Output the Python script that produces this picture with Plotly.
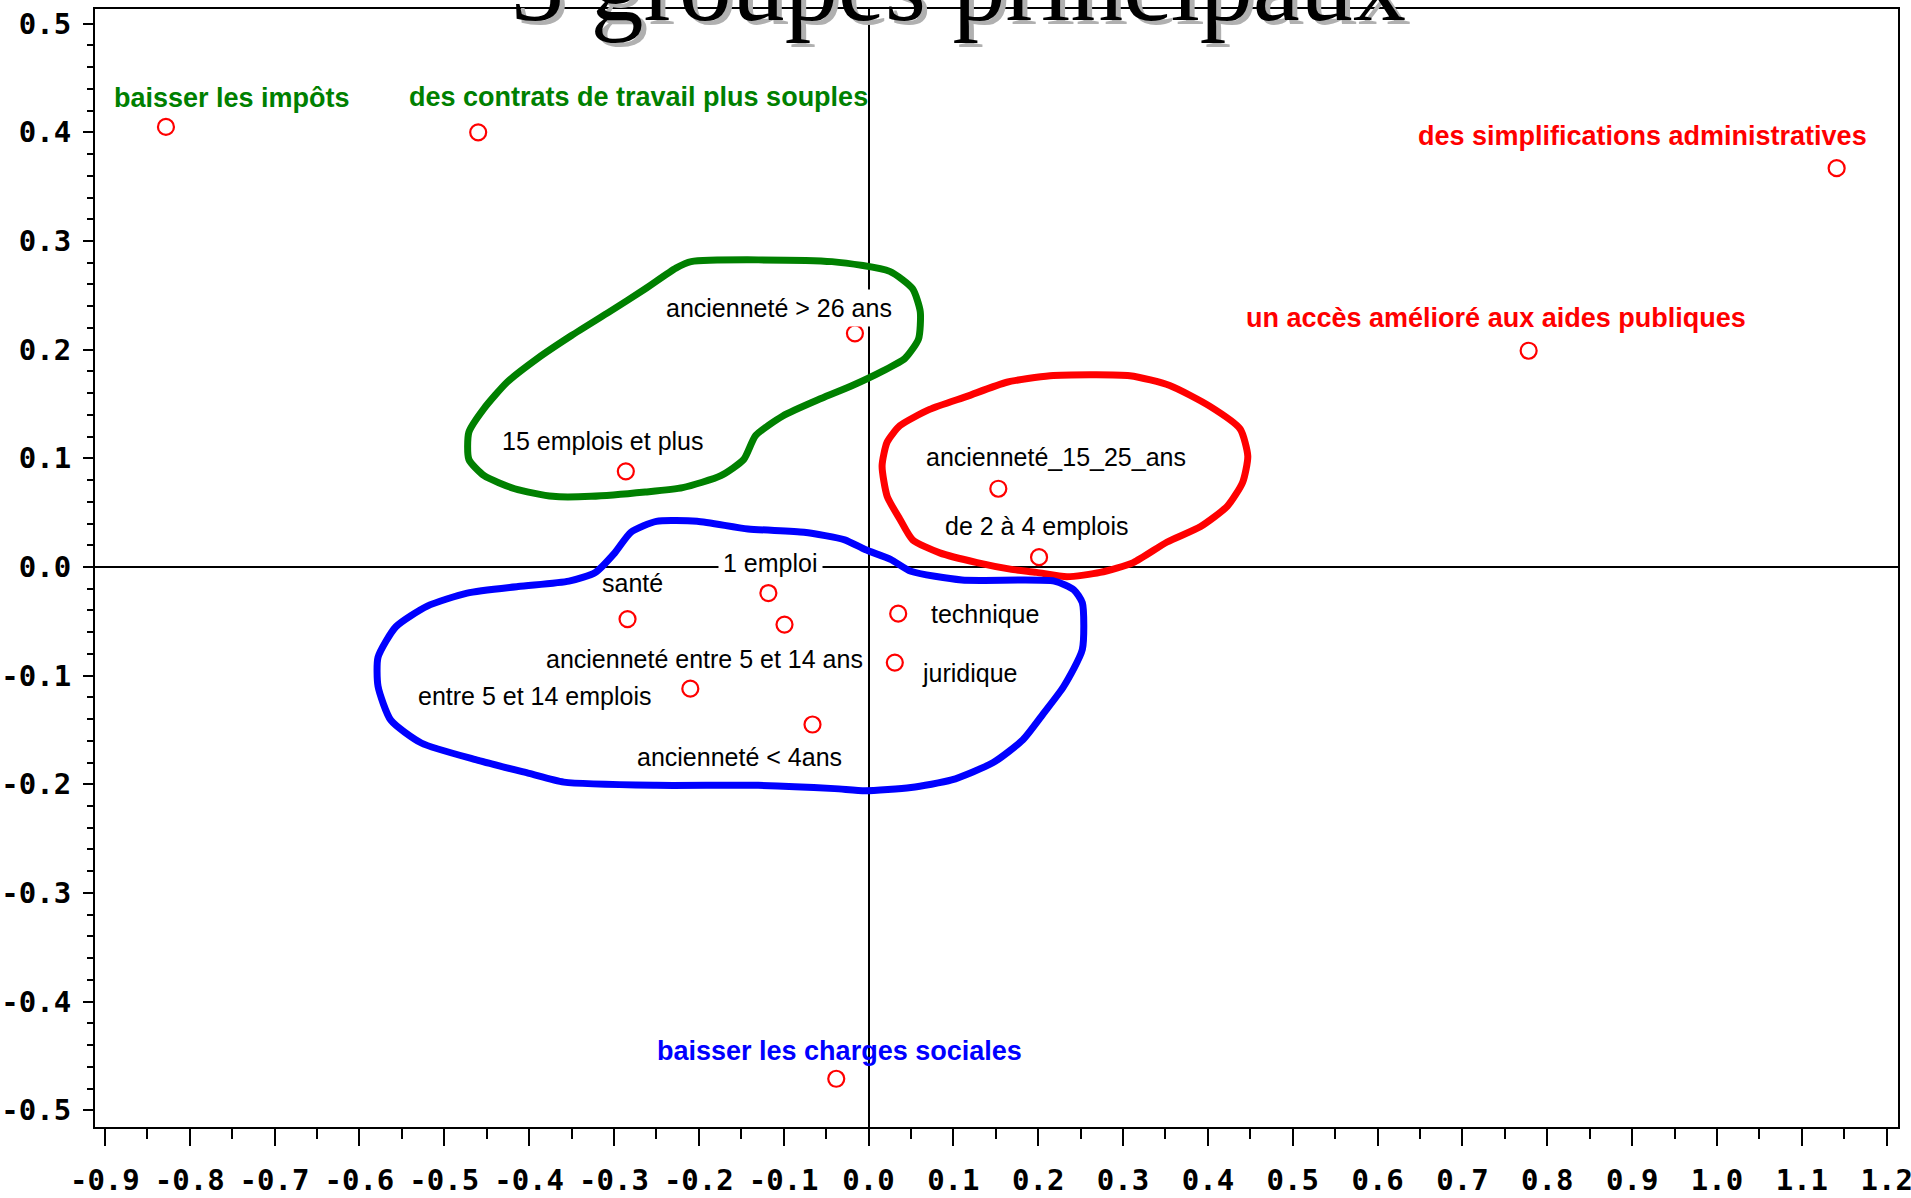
import plotly.graph_objects as go

# ---- data -------------------------------------------------------------
labels = [
    "baisser les impôts", "des contrats de travail plus souples",
    "des simplifications administratives", "un accès amélioré aux aides publiques",
    "ancienneté > 26 ans", "15 emplois et plus", "ancienneté_15_25_ans",
    "de 2 à 4 emplois", "1 emploi", "santé", "ancienneté entre 5 et 14 ans",
    "technique", "juridique", "entre 5 et 14 emplois", "ancienneté < 4ans",
    "baisser les charges sociales",
]
dim1 = [-0.828, -0.460, 1.141, 0.778, -0.016, -0.286, 0.153, 0.201, -0.118,
        -0.284, -0.099, 0.035, 0.031, -0.210, -0.066, -0.038]
dim2 = [0.405, 0.400, 0.367, 0.199, 0.215, 0.088, 0.072, 0.009, -0.024,
        -0.048, -0.053, -0.043, -0.088, -0.112, -0.145, -0.471]
label_group = ["green", "green", "red", "red", "plain", "plain", "plain", "plain",
               "plain", "plain", "plain", "plain", "plain", "plain", "plain", "blue"]

green_x = [-0.209, -0.043, 0.025, 0.052, 0.061, 0.059, 0.043, 0.016, -0.019, -0.056,
           -0.101, -0.133, -0.147, -0.174, -0.219, -0.263, -0.327, -0.372, -0.417,
           -0.453, -0.471, -0.471, -0.453, -0.426, -0.390, -0.350, -0.305, -0.263, -0.227]
green_y = [0.281, 0.281, 0.272, 0.256, 0.235, 0.210, 0.192, 0.180, 0.167, 0.155,
           0.139, 0.121, 0.099, 0.084, 0.073, 0.069, 0.065, 0.065, 0.072,
           0.084, 0.099, 0.124, 0.146, 0.170, 0.192, 0.213, 0.235, 0.256, 0.275]

red_x = [0.214, 0.308, 0.355, 0.402, 0.438, 0.447, 0.441, 0.423, 0.391, 0.352, 0.312,
         0.273, 0.234, 0.198, 0.167, 0.128, 0.084, 0.052, 0.037, 0.022, 0.016, 0.022,
         0.037, 0.072, 0.116, 0.163]
red_y = [0.176, 0.176, 0.167, 0.148, 0.127, 0.102, 0.078, 0.056, 0.037, 0.023, 0.004,
         -0.005, -0.009, -0.005, -0.002, 0.004, 0.013, 0.025, 0.044, 0.065, 0.093, 0.115,
         0.130, 0.145, 0.157, 0.170]

blue_x = [-0.250, -0.202, -0.142, -0.076, -0.028, -0.004, 0.026, 0.050, 0.110, 0.219,
          0.242, 0.252, 0.252, 0.230, 0.207, 0.182, 0.147, 0.098, 0.050, -0.004, -0.040,
          -0.130, -0.250, -0.359, -0.400, -0.460, -0.527, -0.563, -0.578, -0.578, -0.557,
          -0.520, -0.473, -0.413, -0.353, -0.322, -0.299, -0.280]
blue_y = [0.042, 0.042, 0.035, 0.032, 0.025, 0.016, 0.007, -0.004, -0.012, -0.013,
          -0.021, -0.033, -0.076, -0.110, -0.134, -0.159, -0.180, -0.196, -0.203, -0.206,
          -0.204, -0.201, -0.201, -0.198, -0.190, -0.178, -0.162, -0.141, -0.110, -0.083,
          -0.055, -0.036, -0.024, -0.018, -0.013, -0.005, 0.013, 0.032]

x_tickvals = [-0.9, -0.8, -0.7, -0.6, -0.5, -0.4, -0.3, -0.2, -0.1, 0.0, 0.1,
              0.2, 0.3, 0.4, 0.5, 0.6, 0.7, 0.8, 0.9, 1.0, 1.1, 1.2]
x_ticktext = ["-0.9", "-0.8", "-0.7", "-0.6", "-0.5", "-0.4", "-0.3", "-0.2", "-0.1",
              "0.0", "0.1", "0.2", "0.3", "0.4", "0.5", "0.6", "0.7", "0.8", "0.9",
              "1.0", "1.1", "1.2"]
y_tickvals = [-0.5, -0.4, -0.3, -0.2, -0.1, 0.0, 0.1, 0.2, 0.3, 0.4, 0.5]
y_ticktext = ["-0.5", "-0.4", "-0.3", "-0.2", "-0.1", "0.0", "0.1", "0.2", "0.3", "0.4", "0.5"]

title_text = "3 groupes principaux"

# ---- label placement (pixel offsets from each point) -----------------------
label_offsets = [(66, -29), (160, -35), (-194, -32), (-33, -33), (-76, -25), (-23, -30),
                 (58, -32), (-3, -31), (2, -30), (5, -36), (-80, 34), (87, 0), (75, 10),
                 (-156, 7), (-73, 32), (3, -28)]
label_bg = {"ancienneté > 26 ans", "1 emploi", "ancienneté entre 5 et 14 ans"}
group_color = {"green": "#008000", "red": "#ff0000", "blue": "#0000ff", "plain": "#000000"}

fig = go.Figure()

for xs, ys, col in [(green_x, green_y, "#008000"), (red_x, red_y, "#ff0000"),
                    (blue_x, blue_y, "#0000ff")]:
    fig.add_trace(go.Scatter(
        x=xs + [xs[0]], y=ys + [ys[0]], mode="lines",
        line=dict(color=col, width=7, shape="spline", smoothing=0.6),
        hoverinfo="skip", showlegend=False))

fig.add_trace(go.Scatter(
    x=dim1, y=dim2, mode="markers", text=labels, showlegend=False,
    marker=dict(symbol="circle", size=16, color="white",
                line=dict(color="#ff0000", width=2.2))))

for lab, px, py, grp, (dx, dy) in zip(labels, dim1, dim2, label_group, label_offsets):
    bold = grp != "plain"
    fig.add_annotation(
        x=px, y=py, xref="x", yref="y", text=lab, showarrow=False,
        xanchor="center", yanchor="middle", xshift=dx, yshift=-dy,
        font=dict(family="Liberation Sans", size=27 if bold else 25,
                  color=group_color[grp], weight="bold" if bold else "normal"),
        bgcolor="white" if lab in label_bg else None,
        borderpad=4 if lab in label_bg else 0)

# title (cut at the top, with grey shadow)
for sx, sy, col in [(5, -4, "#b0b0b0"), (0, 0, "#000000")]:
    fig.add_annotation(
        text=title_text, xref="paper", yref="paper", x=0.479, y=1.0,
        xanchor="center", yanchor="middle", xshift=sx, yshift=25 + sy,
        showarrow=False,
        font=dict(family="Liberation Serif", size=106, color=col))

tickfont = dict(family="DejaVu Sans Mono", size=29, color="black", weight="bold")

fig.update_xaxes(
    range=[-0.9116, 1.2133], tickmode="array", tickvals=x_tickvals, ticktext=x_ticktext,
    automargin=False, ticklabeloverflow="allow",
    showgrid=False, zeroline=True, zerolinecolor="black", zerolinewidth=1.5,
    showline=True, linecolor="black", linewidth=2, mirror=True,
    ticks="outside", ticklen=17, tickwidth=2, tickcolor="black",
    ticklabelstandoff=9, tickfont=tickfont,
    minor=dict(tick0=0, dtick=0.05, ticks="outside", ticklen=10, tickwidth=2,
               tickcolor="black", showgrid=False))
fig.update_yaxes(
    range=[-0.5154, 0.5135], tickmode="array", tickvals=y_tickvals, ticktext=y_ticktext,
    automargin=False, ticklabeloverflow="allow",
    showgrid=False, zeroline=True, zerolinecolor="black", zerolinewidth=1.5,
    showline=True, linecolor="black", linewidth=2, mirror=True,
    ticks="outside", ticklen=10, tickwidth=2, tickcolor="black",
    ticklabelstandoff=6, tickfont=tickfont,
    minor=dict(tick0=0, dtick=0.02, ticks="outside", ticklen=6, tickwidth=2,
               tickcolor="black", showgrid=False))

fig.update_layout(
    width=1911, height=1198, autosize=False,
    margin=dict(l=95, r=13, t=9, b=71, pad=0, autoexpand=False),
    plot_bgcolor="white", paper_bgcolor="white",
    showlegend=False)

fig.write_html("out.html", config={"displayModeBar": False},
               post_script="document.body.style.margin='0px';document.body.style.overflow='hidden';")
